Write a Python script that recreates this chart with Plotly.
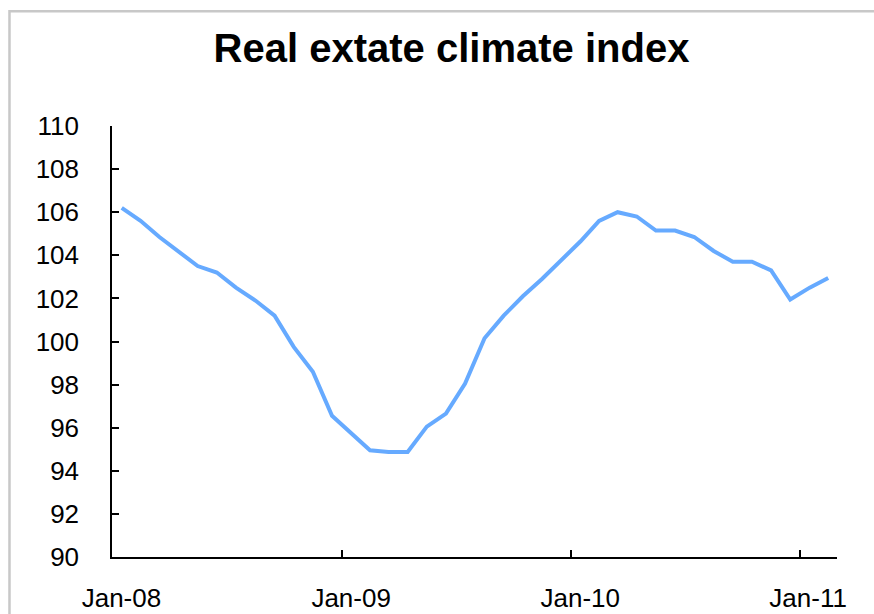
import plotly.graph_objects as go
import pandas as pd

# Data: monthly index, Jan-2008 .. Feb-2011
start_month = "2008-01-01"
n_months = 38
values = [106.2, 105.6, 104.85, 104.15, 103.5, 103.2, 102.5, 101.9, 101.2, 99.75,
          98.6, 96.55, 95.75, 94.95, 94.87, 94.87, 96.05, 96.65, 98.05, 100.15,
          101.2, 102.1, 102.9, 103.8, 104.65, 105.6, 106.0, 105.8, 105.15, 105.15,
          104.85, 104.2, 103.7, 103.7, 103.3, 101.95, 102.5, 102.95]
months = pd.date_range(start_month, periods=n_months, freq="MS")

year_ticks = ["2008-01-01", "2009-01-01", "2010-01-01", "2011-01-01"]
label_vals = ["2008-01-16", "2009-01-16", "2010-01-16", "2011-01-14"]
label_text = ["Jan-08", "Jan-09", "Jan-10", "Jan-11"]
y_ticks = list(range(90, 111, 2))
x_range = ["2008-01-01", "2011-03-01"]

FONT = "Liberation Sans, Arial, sans-serif"

fig = go.Figure()
fig.add_trace(go.Scatter(
    x=months, y=values, mode="lines",
    xperiod="M1", xperiodalignment="middle",
    line=dict(color="#66AAFF", width=4),
    showlegend=False, hoverinfo="skip",
))

fig.update_layout(
    width=874, height=614,
    margin=dict(l=112, r=37, t=126, b=57),
    paper_bgcolor="white", plot_bgcolor="white",
    font=dict(family=FONT, color="black", size=26),
    title=dict(text="<b>Real extate climate index</b>",
               font=dict(family=FONT, size=40, color="black"),
               x=0.5166, xanchor="center", xref="container",
               y=1 - 48 / 614, yanchor="middle", yref="container"),
    shapes=[dict(type="rect", xref="paper", yref="paper",
                 x0=-0.1414, x1=1.2, y0=-0.3, y1=1.2664,
                 line=dict(color="#C8C8C8", width=2.5), fillcolor="rgba(0,0,0,0)",
                 layer="below")],
)

fig.update_xaxes(
    type="date", range=x_range, automargin=False,
    tickmode="array", tickvals=label_vals, ticktext=label_text,
    ticks="inside", ticklen=0,
    minor=dict(tickmode="array", tickvals=year_ticks, ticks="inside",
               ticklen=7, tickwidth=1.5, tickcolor="black", showgrid=False),
    showline=True, linecolor="black", linewidth=1.5,
    showgrid=False, zeroline=False,
    tickfont=dict(family=FONT, size=26, color="black"),
    ticklabelstandoff=17,
)
fig.update_yaxes(
    range=[90, 110], tickmode="array", tickvals=y_ticks, automargin=False,
    ticks="inside", ticklen=7, tickwidth=1.5, tickcolor="black",
    showline=True, linecolor="black", linewidth=1.5,
    showgrid=False, zeroline=False,
    tickfont=dict(family=FONT, size=26, color="black"),
    ticklabelstandoff=26,
)

fig.write_html("out.html")
